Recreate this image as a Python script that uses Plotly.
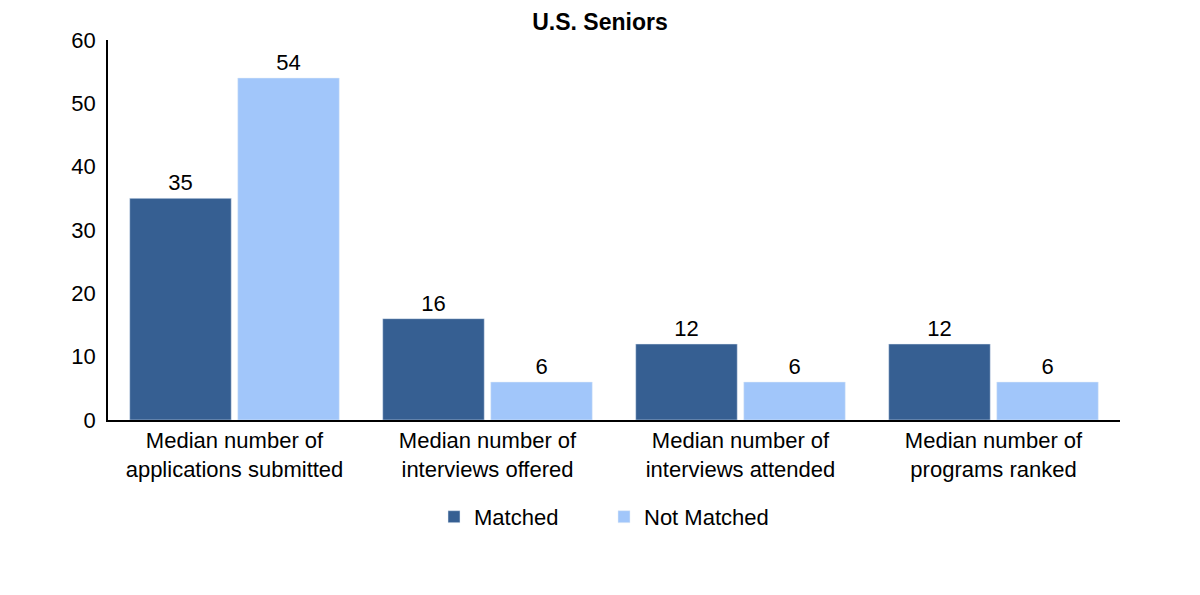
import plotly.graph_objects as go

categories = ["Median number of<br>applications submitted",
              "Median number of<br>interviews offered",
              "Median number of<br>interviews attended",
              "Median number of<br>programs ranked"]
matched = [35, 16, 12, 12]
not_matched = [54, 6, 6, 6]

font = "Liberation Sans, Arial, sans-serif"

fig = go.Figure()
fig.add_trace(go.Bar(name="Matched", x=categories, y=matched, marker_color="#365F92",
                     text=matched, textposition="outside", cliponaxis=False,
                     textfont=dict(size=22, color="#000000")))
fig.add_trace(go.Bar(name="Not Matched", x=categories, y=not_matched, marker_color="#A1C6FA",
                     text=not_matched, textposition="outside", cliponaxis=False,
                     textfont=dict(size=22, color="#000000")))

fig.update_layout(
    width=1200, height=595,
    margin=dict(l=100, r=88, t=32, b=183),
    paper_bgcolor="white", plot_bgcolor="white",
    font=dict(family=font, size=22, color="#000000"),
    title=dict(text="<b>U.S. Seniors</b>", x=0.5 - 8/1200, xanchor="center", y=1 - 14/595, yanchor="middle",
               font=dict(size=23, family=font)),
    barmode="group", bargap=0.146, bargroupgap=0.06,
    showlegend=True,
    legend=dict(orientation="h", x=0.5 - 10/1012, xanchor="center", y=-0.255, yanchor="middle",
                font=dict(size=22), entrywidth=125),
    xaxis=dict(showline=True, linecolor="#000000", linewidth=1.5, ticks="",
               tickfont=dict(size=22), showgrid=False),
    yaxis=dict(range=[0, 60], dtick=10, showline=True, linecolor="#000000", linewidth=1.5,
               ticks="", showgrid=False, zeroline=False, tickfont=dict(size=22), ticklabelstandoff=6),
)

fig.write_html("out.html")
